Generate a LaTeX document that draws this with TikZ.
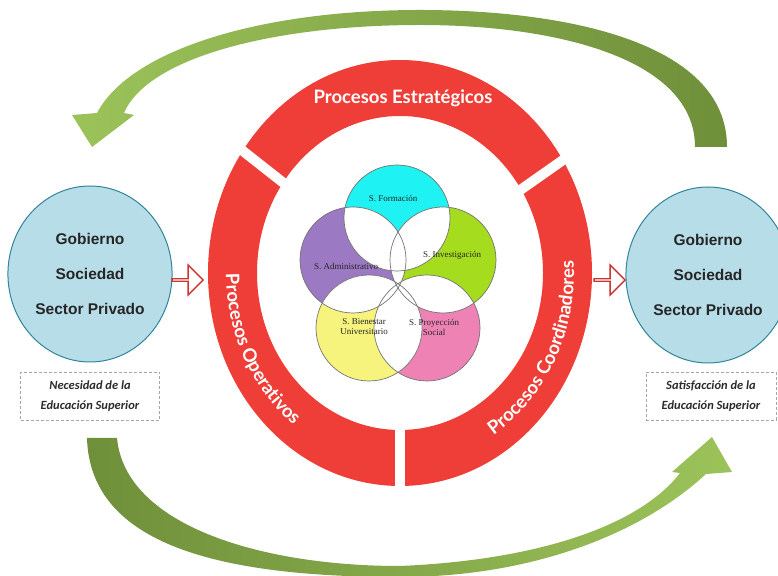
\documentclass[tikz,border=0pt]{standalone}
\usepackage{fontspec}
\setmainfont{Liberation Sans}
\newfontfamily\latofont{Lato}
\newfontfamily\carlito{Carlito}
\newfontfamily\serifvenn{Liberation Serif}
\usetikzlibrary{shapes.geometric,shapes.arrows,decorations.text}
\definecolor{cBand}{HTML}{EF3D38}
\definecolor{cSky}{HTML}{B7DDE8}
\definecolor{cSkyLine}{HTML}{31849B}
\definecolor{cOlive}{HTML}{6F8F3A}
\definecolor{cLime}{HTML}{9CC35A}
\definecolor{cCyan}{HTML}{1EF2F2}
\definecolor{cGreen}{HTML}{A6DC1E}
\definecolor{cPurple}{HTML}{9B79C3}
\definecolor{cYellow}{HTML}{F6F47C}
\definecolor{cPink}{HTML}{EF82B5}
\definecolor{cNote}{HTML}{2B2B2B}
\tikzset{
  actor/.style={ellipse, draw=cSkyLine, line width=1, fill=cSky, minimum width=156, minimum height=176, align=center, text=black!85, font=\bfseries\fontsize{15.5}{35}\selectfont},
  notebox/.style={draw=gray!70, densely dashed, line width=0.8, minimum width=139, minimum height=48, align=center, inner sep=2, text=cNote, font=\carlito\bfseries\itshape\fontsize{12.5}{20}\selectfont},
  flow/.style={single arrow, draw=cBand!85!black, line width=1.3, fill=white, minimum height=31, minimum width=30, single arrow head extend=7, inner sep=0},
  venn/.style={draw=black!55, line width=0.7},
  vlabel/.style={font=\serifvenn\fontsize{9}{10}\selectfont, align=center, inner sep=0, text=black!85},
  bandtext/.style={text=white, font=\latofont\bfseries\fontsize{18.5}{20}\selectfont}
}
\begin{document}
\begin{tikzpicture}[x=1pt,y=1pt]
\useasboundingbox (0,0) rectangle (778,575);
\clip (0,0) rectangle (778,575);
% flechas verdes
\shade[left color=cLime, right color=cOlive] (727,428) .. controls (727,535) and (560,565) .. (420,565) .. controls (260,565) and (130,525) .. (97,462) -- (72,460) -- (92,428) -- (134,460) -- (124,462) .. controls (148,518) and (275,550) .. (420,550) .. controls (560,550) and (695,515) .. (695,428) -- cycle;
\shade[left color=cOlive, right color=cLime] (87,137) .. controls (90,30) and (220,-2) .. (400,-2) .. controls (530,-2) and (640,40) .. (706,101) -- (732,103) -- (712,138) -- (672,103) -- (680,102) .. controls (640,50) and (540,15) .. (400,9) .. controls (260,9) and (125,50) .. (117,137) -- cycle;
% anillo de procesos
\fill[cBand, even odd rule] (400,302) ellipse[x radius=192, y radius=213] (400,302) ellipse[x radius=143, y radius=157];
\begin{scope}[shift={(400,302)}]
  \foreach \a in {145,32,270}
    \draw[white, line width=10] (\a:136 and 150) -- (\a:200 and 222);
  \path[decorate, decoration={text along path, text color=white, text align=center,
      text={|\latofont\bfseries\fontsize{18.5}{20}\selectfont|Procesos Operativos}}]
    (150:174 and 192) arc[start angle=150, end angle=265, x radius=174, y radius=192];
  \path[decorate, decoration={text along path, text color=white, text align=center,
      text={|\latofont\bfseries\fontsize{18.5}{20}\selectfont|Procesos Coordinadores}}]
    (-75:174 and 192) arc[start angle=-75, end angle=20, x radius=174, y radius=192];
\end{scope}
\node[bandtext] (estrategicos) at (403,477) {Procesos Estratégicos};
% subsistemas
\coordinate (v1) at (397,357);
\coordinate (v2) at (443,315);
\coordinate (v3) at (353,315);
\coordinate (v4) at (427,247);
\coordinate (v5) at (369,247);
\foreach \v/\col in {v1/cCyan, v2/cGreen, v3/cPurple, v4/cPink, v5/cYellow}
  \fill[\col] (\v) circle[radius=53];
\foreach \p/\q in {v1/v2, v1/v3, v1/v4, v1/v5, v2/v3, v2/v4, v2/v5, v3/v4, v3/v5, v4/v5}{
  \begin{scope}
    \clip (\p) circle[radius=53];
    \fill[white] (\q) circle[radius=53];
  \end{scope}
}
\foreach \i in {1,...,5}
  \draw[venn] (v\i) circle[radius=53];
\node[vlabel] (formacion) at (393,377) {S. Formación};
\node[vlabel] (investigacion) at (452,320) {S. Investigación};
\node[vlabel] (administrativo) at (346,309) {S. Administrativo};
\node[vlabel] (bienestar) at (364,248) {S. Bienestar\\Universitario};
\node[vlabel] (proyeccion) at (434,248) {S. Proyección\\Social};
% actores
\node[actor] (actorL) at (90,301) {Gobierno\\Sociedad\\Sector Privado};
\node[actor] (actorR) at (708,300) {Gobierno\\Sociedad\\Sector Privado};
\node[notebox] (necesidad) at (90,179) {Necesidad de la\\Educación Superior};
\node[notebox, minimum width=130] (satisfaccion) at (711,179) {Satisfacción de la\\Educación Superior};
\node[flow] (entrada) at (187,295) {};
\node[flow] (salida) at (609,295) {};
\end{tikzpicture}
\end{document}
